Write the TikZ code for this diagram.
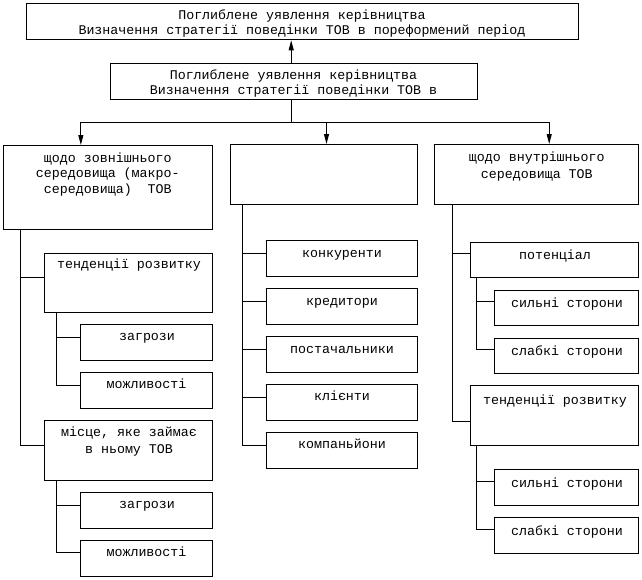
\documentclass[tikz,border=0pt]{standalone}
\usepackage{fontspec}
\newfontfamily\monofnt{Liberation Mono}
\usetikzlibrary{arrows.meta}
\tikzset{
 box/.style={draw, line width=1pt, inner sep=0pt, anchor=north west, rectangle},
 txt/.style={inner sep=0pt, anchor=mid, yshift=-2pt, font=\monofnt\fontsize{13.3}{15.5}\selectfont},
 ln/.style={line width=1pt},
 arr/.style={line width=1pt, -{Triangle[length=10pt,width=5pt]}},
}
\begin{document}
\begin{tikzpicture}[x=1pt,y=-1pt]
\useasboundingbox (0,0) rectangle (642,579);
% boxes
\node[box, minimum width=552pt, minimum height=36pt] (T) at (26,3.3) {};
\node[box, minimum width=366.4pt, minimum height=36pt] (S) at (110.3,63.3) {};
\node[box, minimum width=209.3pt, minimum height=84pt] (L) at (2.7,145) {};
\node[box, minimum width=186.4pt, minimum height=60pt] (M) at (230.3,144) {};
\node[box, minimum width=204pt, minimum height=60pt] (R) at (434.3,144) {};
\node[box, minimum width=167.7pt, minimum height=59.3pt] (LT) at (44.3,252.7) {};
\node[box, minimum width=131.7pt, minimum height=36pt] (LTz) at (80.3,324) {};
\node[box, minimum width=131.7pt, minimum height=36pt] (LTm) at (80.3,372.3) {};
\node[box, minimum width=167.7pt, minimum height=60pt] (LM) at (44.3,420.3) {};
\node[box, minimum width=131.7pt, minimum height=36pt] (LMz) at (80.3,492.3) {};
\node[box, minimum width=131.7pt, minimum height=36pt] (LMm) at (80.3,540.3) {};
\node[box, minimum width=150.4pt, minimum height=36pt] (M1) at (266.3,240) {};
\node[box, minimum width=150.4pt, minimum height=36pt] (M2) at (266.3,288) {};
\node[box, minimum width=150.4pt, minimum height=36pt] (M3) at (266.3,336) {};
\node[box, minimum width=150.4pt, minimum height=36pt] (M4) at (266.3,384) {};
\node[box, minimum width=150.4pt, minimum height=36pt] (M5) at (266.3,432) {};
\node[box, minimum width=168pt, minimum height=35pt] (Rp) at (470.3,241.7) {};
\node[box, minimum width=144pt, minimum height=35pt] (Rps) at (494.3,290) {};
\node[box, minimum width=144pt, minimum height=35.6pt] (Rpw) at (494.3,337.7) {};
\node[box, minimum width=168pt, minimum height=60pt] (RT) at (470.3,385.3) {};
\node[box, minimum width=144pt, minimum height=36pt] (RTs) at (494.3,469.3) {};
\node[box, minimum width=144pt, minimum height=36pt] (RTw) at (494.3,517.3) {};
% texts
\node[txt] (tT1) at (302,15) {Поглиблене уявлення керівництва};
\node[txt] (tT2) at (302,30.7) {Визначення стратегії поведінки ТОВ в пореформений період};
\node[txt] (tS1) at (293.5,75.7) {Поглиблене уявлення керівництва};
\node[txt] (tS2) at (293.5,90.7) {Визначення стратегії поведінки ТОВ в};
\node[txt] (tL1) at (107.8,158.7) {щодо зовнішнього};
\node[txt] (tL2) at (107.8,173.7) {середовища (макро-};
\node[txt] (tL3) at (107.8,189.7) {середовища)~ ТОВ};
\node[txt] (tR1) at (536.8,157) {щодо внутрішнього};
\node[txt] (tR2) at (536.8,174) {середовища ТОВ};
\node[txt] (tLT) at (129,264.3) {тенденції розвитку};
\node[txt] (tLTz) at (147,336.3) {загрози};
\node[txt] (tLTm) at (146.5,384.3) {можливості};
\node[txt] (tLM1) at (129,432.7) {місце, яке займає};
\node[txt] (tLM2) at (129,449.3) {в ньому ТОВ};
\node[txt] (tLMz) at (147,504.3) {загрози};
\node[txt] (tLMm) at (146.5,552.3) {можливості};
\node[txt] (tM1) at (342,253.3) {конкуренти};
\node[txt] (tM2) at (342,301) {кредитори};
\node[txt] (tM3) at (342,349) {постачальники};
\node[txt] (tM4) at (342,396.7) {клієнти};
\node[txt] (tM5) at (342,444.7) {компаньйони};
\node[txt] (tRp) at (555,255.3) {потенціал};
\node[txt] (tRps) at (567,303.3) {сильні сторони};
\node[txt] (tRpw) at (567,351) {слабкі сторони};
\node[txt] (tRT) at (555,400) {тенденції розвитку};
\node[txt] (tRTs) at (567,483.3) {сильні сторони};
\node[txt] (tRTw) at (567,531.3) {слабкі сторони};
% top connectors
\coordinate (sn) at ([xshift=-2.8pt]S.north);
\coordinate (ss) at ([xshift=-2.8pt]S.south);
\coordinate (hub) at ([yshift=-22pt]ss);
\coordinate (ltop) at ([xshift=-27pt]L.north);
\coordinate (mtop) at ([xshift=2.5pt]M.north);
\coordinate (rtop) at ([xshift=12.4pt]R.north);
\draw[arr] (sn) -- (sn |- T.south);
\draw[ln] (ss) -- (hub);
\draw[arr] (hub) -| (ltop);
\draw[arr] (hub) -| (rtop);
\draw[arr] (mtop |- hub) -- (mtop);
% left trunk
\draw[ln] ([xshift=18pt]L.south west) |- ([yshift=-24.3pt]LT.north west);
\draw[ln] ([xshift=18pt]L.south west) |- ([yshift=-25pt]LM.north west);
\draw[ln] ([xshift=12.4pt]LT.south west) |- ([yshift=-13.5pt]LTz.north west);
\draw[ln] ([xshift=12.4pt]LT.south west) |- ([yshift=-12.7pt]LTm.north west);
\draw[ln] ([xshift=12.4pt]LM.south west) |- ([yshift=-12.7pt]LMz.north west);
\draw[ln] ([xshift=12.4pt]LM.south west) |- ([yshift=-12.4pt]LMm.north west);
% middle trunk
\foreach \m in {M1,M2,M3,M4,M5}
  \draw[ln] ([xshift=12pt]M.south west) |- ([yshift=-13pt]\m.north west);
% right trunk
\draw[ln] ([xshift=18.4pt]R.south west) |- ([yshift=-12pt]Rp.north west);
\draw[ln] ([xshift=18.4pt]R.south west) |- ([yshift=-35.7pt]RT.north west);
\draw[ln] ([xshift=6pt]Rp.south west) |- ([yshift=-11.7pt]Rps.north west);
\draw[ln] ([xshift=6pt]Rp.south west) |- ([yshift=-11.3pt]Rpw.north west);
\draw[ln] ([xshift=6pt]RT.south west) |- ([yshift=-12pt]RTs.north west);
\draw[ln] ([xshift=6pt]RT.south west) |- ([yshift=-12pt]RTw.north west);
\end{tikzpicture}
\end{document}
